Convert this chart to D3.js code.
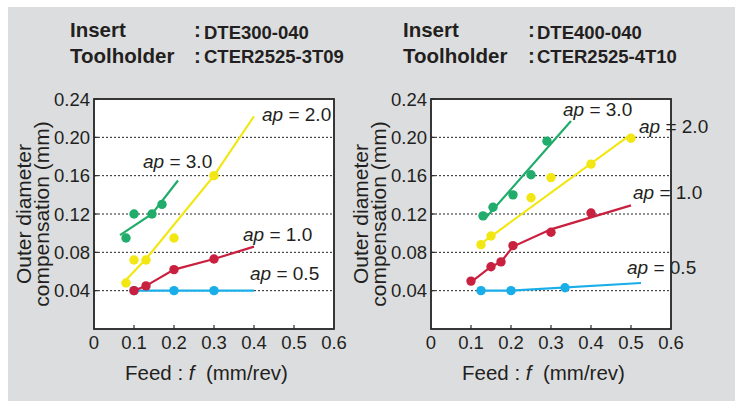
<!DOCTYPE html>
<meta charset="utf-8">
<style>
    body { margin: 0; background: #fff; }
    svg text { font-family: "Liberation Sans", Arial, Helvetica, sans-serif; fill: #231f20; }
    .frame { fill: #fff; stroke: #2b2b2b; stroke-width: 1.5; }
    .grid line { stroke: #222; stroke-width: 1; stroke-dasharray: 2,2; }
    .tick-mark { stroke: #2b2b2b; stroke-width: 1.2; }
    .ticklab { font-size: 18.5px; }
    .aplab { font-size: 19px; }
    .head { font-weight: bold; }
</style>
<svg id="chart" width="738" height="403"></svg>
<script src="https://cdn.jsdelivr.net/npm/d3@7"></script>
<script>

    // axis ticks
    var xTicks = [0, 0.1, 0.2, 0.3, 0.4, 0.5, 0.6];
    var yTicks = [0.04, 0.08, 0.12, 0.16, 0.20, 0.24];

    // header text
    var leftInsert = "DTE300-040", leftHolder = "CTER2525-3T09";
    var rightInsert = "DTE400-040", rightHolder = "CTER2525-4T10";

    // series names
    var apNames = ["0.5", "1.0", "2.0", "3.0"];

    // left chart: measured points and fitted lines
    var left05pts = [[0.1, 0.04], [0.2, 0.04], [0.3, 0.04]];
    var left05fit = [[0.105, 0.04], [0.4, 0.04]];
    var left10pts = [[0.1, 0.04], [0.13, 0.045], [0.2, 0.062], [0.3, 0.073]];
    var left10fit = [[0.1, 0.04], [0.13, 0.045], [0.2, 0.062], [0.3, 0.073], [0.4, 0.086]];
    var left20pts = [[0.08, 0.048], [0.1, 0.072], [0.13, 0.072], [0.2, 0.095], [0.3, 0.16]];
    var left20fit = [[0.07, 0.047], [0.13, 0.073], [0.3, 0.16], [0.4, 0.222]];
    var left30pts = [[0.08, 0.095], [0.1, 0.12], [0.145, 0.12], [0.17, 0.13]];
    var left30fit = [[0.065, 0.098], [0.145, 0.12], [0.21, 0.155]];

    // right chart
    var right05pts = [[0.125, 0.04], [0.2, 0.04], [0.335, 0.043]];
    var right05fit = [[0.125, 0.04], [0.2, 0.04], [0.525, 0.048]];
    var right10pts = [[0.1, 0.05], [0.15, 0.065], [0.175, 0.07], [0.205, 0.087], [0.3, 0.101], [0.4, 0.121]];
    var right10fit = [[0.1, 0.049], [0.15, 0.065], [0.175, 0.07], [0.205, 0.086], [0.3, 0.104], [0.5, 0.129]];
    var right20pts = [[0.125, 0.088], [0.15, 0.097], [0.25, 0.137], [0.3, 0.158], [0.4, 0.172], [0.5, 0.199]];
    var right20fit = [[0.115, 0.086], [0.5, 0.203]];
    var right30pts = [[0.13, 0.118], [0.155, 0.127], [0.205, 0.14], [0.25, 0.161], [0.29, 0.196]];
    var right30fit = [[0.127, 0.12], [0.135, 0.115], [0.35, 0.217]];

    var colors = {"0.5": "#1aaee8", "1.0": "#c9203f", "2.0": "#f2e712", "3.0": "#20ac6a"};

    var svg = d3.select("#chart");

    svg.append("rect")
        .attr("x", 8).attr("y", 7)
        .attr("width", 727).attr("height", 394)
        .attr("fill", "#dcdddf");

    var W = 240, H = 230;

    function panel(opt) {
        var g = svg.append("g").attr("transform", "translate(" + opt.x0 + "," + opt.y0 + ")");

        var x = d3.scaleLinear().domain([0, 0.6]).range([0, W]);
        var y = d3.scaleLinear().domain([0, 0.24]).range([H, 0]);

        // header
        var hd = svg.append("g").attr("class", "head");
        hd.append("text").attr("x", opt.hx).attr("y", 37).style("font-size", "20.5px").text("Insert");
        hd.append("text").attr("x", opt.hx).attr("y", 63).style("font-size", "20.5px").text("Toolholder");
        hd.append("text").attr("x", opt.cx).attr("y", 37).style("font-size", "20.5px").text(":");
        hd.append("text").attr("x", opt.cx).attr("y", 63).style("font-size", "20.5px").text(":");
        hd.append("text").attr("x", opt.vx).attr("y", 39).style("font-size", "18.5px").text(opt.insert);
        hd.append("text").attr("x", opt.vx).attr("y", 63).style("font-size", "18.5px").text(opt.holder);

        g.append("rect").attr("class", "frame").attr("width", W).attr("height", H);

        g.append("g").attr("class", "grid")
            .selectAll("line").data(yTicks.slice(0, -1)).enter().append("line")
            .attr("x1", 0).attr("x2", W)
            .attr("y1", function(d) { return y(d); })
            .attr("y2", function(d) { return y(d); });

        // inward ticks
        g.selectAll(".ytm").data(yTicks).enter().append("line")
            .attr("class", "tick-mark")
            .attr("x1", 0).attr("x2", 4)
            .attr("y1", function(d) { return y(d); })
            .attr("y2", function(d) { return y(d); });
        g.selectAll(".xtm").data(xTicks.slice(1, -1)).enter().append("line")
            .attr("class", "tick-mark")
            .attr("y1", H).attr("y2", H - 4)
            .attr("x1", function(d) { return x(d); })
            .attr("x2", function(d) { return x(d); });

        g.selectAll(".ylab").data(yTicks).enter().append("text")
            .attr("class", "ticklab")
            .attr("x", -4)
            .attr("y", function(d) { return y(d); })
            .attr("dy", "0.36em")
            .attr("text-anchor", "end")
            .text(function(d) { return d3.format(".2f")(d); });

        g.selectAll(".xlab").data(xTicks).enter().append("text")
            .attr("class", "ticklab")
            .attr("x", function(d) { return x(d); })
            .attr("y", H + 20)
            .attr("text-anchor", "middle")
            .text(function(d) { return d === 0 ? "0" : d3.format(".1f")(d); });

        // axis titles
        var xt = g.append("text").attr("x", 31).attr("y", H + 51).style("font-size", "20.5px");
        xt.append("tspan").text("Feed : ");
        xt.append("tspan").style("font-style", "italic").text("f");
        xt.append("tspan").text("\u00a0 (mm/rev)");

        var yt = g.append("text")
            .attr("transform", "translate(-63," + (H / 2) + ") rotate(-90)")
            .attr("text-anchor", "middle")
            .style("font-size", "21px");
        yt.append("tspan").attr("x", 0).attr("y", 0).text("Outer diameter");
        yt.append("tspan").attr("x", 0).attr("y", 17.5).text("compensation (mm)");

        var line = d3.line()
            .x(function(d) { return x(d[0]); })
            .y(function(d) { return y(d[1]); });

        // draw order: 0.5, 2.0, 1.0, 3.0
        ["0.5", "2.0", "1.0", "3.0"].forEach(function(k) {
            var s = opt.series[k];
            g.append("path")
                .attr("d", line(s.fit))
                .attr("fill", "none")
                .attr("stroke", colors[k])
                .attr("stroke-width", 2.2);
            g.selectAll(null).data(s.pts).enter().append("circle")
                .attr("cx", function(d) { return x(d[0]); })
                .attr("cy", function(d) { return y(d[1]); })
                .attr("r", 4.7)
                .attr("fill", colors[k]);
        });

        apNames.forEach(function(k) {
            var p = opt.labels[k];
            var t = g.append("text").attr("class", "aplab")
                .attr("x", p[0]).attr("y", p[1]);
            t.append("tspan").style("font-style", "italic").text("ap");
            t.append("tspan").text(" = " + k);
        });

        // outline on top, it crosses the labels on the right chart
        g.append("rect").attr("class", "frame").attr("width", W).attr("height", H).style("fill", "none");
    }

    panel({
        x0: 94, y0: 99, hx: 70, cx: 194, vx: 204,
        insert: leftInsert, holder: leftHolder,
        series: {
            "0.5": {pts: left05pts, fit: left05fit},
            "1.0": {pts: left10pts, fit: left10fit},
            "2.0": {pts: left20pts, fit: left20fit},
            "3.0": {pts: left30pts, fit: left30fit}
        },
        labels: {"2.0": [168, 22], "3.0": [49, 69], "1.0": [149, 142], "0.5": [156, 181]}
    });

    panel({
        x0: 431, y0: 99, hx: 403, cx: 528, vx: 537,
        insert: rightInsert, holder: rightHolder,
        series: {
            "0.5": {pts: right05pts, fit: right05fit},
            "1.0": {pts: right10pts, fit: right10fit},
            "2.0": {pts: right20pts, fit: right20fit},
            "3.0": {pts: right30pts, fit: right30fit}
        },
        labels: {"3.0": [132, 17], "2.0": [208, 34], "1.0": [202, 100], "0.5": [196, 175]}
    });

</script>
